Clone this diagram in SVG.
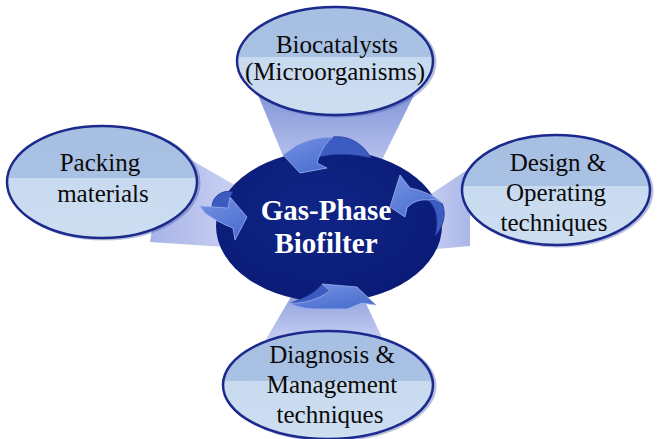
<svg xmlns="http://www.w3.org/2000/svg" width="658" height="439" viewBox="0 0 658 439">
<style>
.node{stroke:#1b2a8c;stroke-width:2.5;fill:url(#nodeFill)}
.shadow{fill:none;stroke:#3a4a9a;stroke-width:3;opacity:0.35}
.lbl{font-family:"Liberation Serif","Times New Roman",serif;font-size:25px;fill:#0a0a0a;text-anchor:middle}
.ctr{font-family:"Liberation Serif","Times New Roman",serif;font-size:29px;font-weight:bold;fill:#fff;text-anchor:middle}
.arr{fill:url(#arrFill);stroke:#9fb3ee;stroke-width:0.8;stroke-linejoin:round}
.back{fill:#3c5cc2;stroke:#22379a;stroke-width:0.8;stroke-linejoin:round}
</style>
<defs>
<linearGradient id="nodeFill" x1="0" y1="0" x2="0" y2="1">
<stop offset="0" stop-color="#a7bfe2"/>
<stop offset="0.465" stop-color="#a9c1e3"/>
<stop offset="0.465" stop-color="#c8daef"/>
<stop offset="1" stop-color="#cddef1"/>
</linearGradient>
<radialGradient id="ctrFill" cx="0.45" cy="0.4" r="0.65">
<stop offset="0" stop-color="#0f2586"/>
<stop offset="1" stop-color="#0a1b76"/>
</radialGradient>
<linearGradient id="arrFill" x1="0" y1="0" x2="0.6" y2="1">
<stop offset="0" stop-color="#7592e2"/>
<stop offset="1" stop-color="#4d70d0"/>
</linearGradient>
<linearGradient id="beamTop" x1="0" y1="0" x2="0" y2="1">
<stop offset="0" stop-color="#8597da"/>
<stop offset="1" stop-color="#bcc6ee"/>
</linearGradient>
<linearGradient id="beamLeft" x1="0" y1="0" x2="1" y2="0">
<stop offset="0" stop-color="#a7b4e7"/>
<stop offset="1" stop-color="#cbd2f2"/>
</linearGradient>
<linearGradient id="beamRight" x1="1" y1="0" x2="0" y2="0">
<stop offset="0" stop-color="#aab7e8"/>
<stop offset="1" stop-color="#c8cff2"/>
</linearGradient>
<linearGradient id="beamBottom" x1="0" y1="0" x2="0" y2="1">
<stop offset="0" stop-color="#8fa1df"/>
<stop offset="1" stop-color="#cfd6f4"/>
</linearGradient>
</defs>
<rect width="658" height="439" fill="#fff"/>
<g id="beams">
<polygon points="258,95 414,95 378,168 288,168" fill="url(#beamTop)"/>
<polygon points="165,145 240,188 240,248 150,242" fill="url(#beamLeft)"/>
<polygon points="425,198 470,168 470,246 425,250" fill="url(#beamRight)"/>
<polygon points="292,295 362,295 386,346 262,346" fill="url(#beamBottom)"/>
</g>
<g id="center">
<ellipse cx="329" cy="226" rx="113" ry="76" fill="url(#ctrFill)"/>
<text class="ctr" x="326" y="220">Gas-Phase</text>
<text class="ctr" x="326" y="253">Biofilter</text>
</g>
<g id="node-top">
<ellipse class="shadow" cx="337" cy="62" rx="98" ry="54"/>
<ellipse class="node" cx="335" cy="61" rx="98" ry="54"/>
<text class="lbl" x="337" y="53">Biocatalysts</text>
<text class="lbl" x="335" y="80">(Microorganisms)</text>
</g>
<g id="node-left">
<ellipse class="shadow" cx="104" cy="183" rx="95" ry="56"/>
<ellipse class="node" cx="102" cy="182" rx="95" ry="56"/>
<text class="lbl" x="100" y="171">Packing</text>
<text class="lbl" x="103" y="202">materials</text>
</g>
<g id="node-right">
<ellipse class="shadow" cx="558" cy="191" rx="94" ry="55"/>
<ellipse class="node" cx="556" cy="190" rx="94" ry="55"/>
<text class="lbl" x="558" y="171">Design &amp;</text>
<text class="lbl" x="556" y="201">Operating</text>
<text class="lbl" x="554" y="231">techniques</text>
</g>
<g id="node-bottom">
<ellipse class="shadow" cx="330" cy="386" rx="105" ry="54"/>
<ellipse class="node" cx="328" cy="385" rx="105" ry="54"/>
<text class="lbl" x="332" y="363">Diagnosis &amp;</text>
<text class="lbl" x="332" y="393">Management</text>
<text class="lbl" x="330" y="423">techniques</text>
</g>
<g id="connectors">
<path class="back" d="M333,137 C350,135 364,145 371,158 C355,154 336,153 319,157 C321,150 326,142 333,137 Z"/>
<path class="arr" d="M283,155 L297,145 C308,140 318,137 333,137 C326,142 320,152 317,163 L327,168 L300,173 Z"/>
<path class="back" d="M428,200 C437,208 439,222 435,236 C443,228 447,214 442,203 C437,199 432,199 428,200 Z"/>
<path class="arr" d="M390,207 L400,175 L410,188 C420,190 434,195 442,203 C437,199 432,199 428,200 C420,199 412,202 407,208 L405,217 Z"/>
<path class="back" d="M212,207 C212,197 222,189 233,192 L230,197 L228,208 Z"/>
<path class="arr" d="M200,206 L228,208 L230,197 L247,217 L235,240 L233,228 C222,224 212,218 205,213 Z"/>
<path class="back" d="M290,303 C305,304 318,299 330,291 L322,284 C315,293 303,299 290,303 Z"/>
<path class="arr" d="M290,303 C305,304 318,299 330,291 L322,284 L357,287 L376,305 L362,303 L347,309 L320,309 C305,309 296,307 290,303 Z"/>
</g>
</svg>
